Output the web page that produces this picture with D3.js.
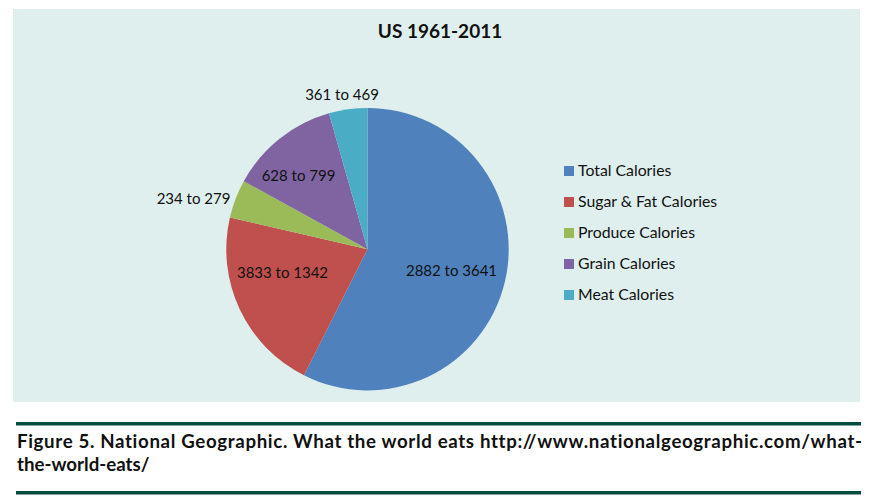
<!DOCTYPE html>
<html>
<head>
<meta charset="utf-8">
<script src="https://cdnjs.cloudflare.com/ajax/libs/d3/7.8.5/d3.min.js"></script>
<style>
  html, body { margin: 0; padding: 0; background: #fff; }
  text { font-family: Lato, "Open Sans", sans-serif; fill: #111; font-variant-ligatures: none; }
</style>
</head>
<body>
<div id="chart"></div>
<script>
const categories = ["Total Calories", "Sugar & Fat Calories", "Produce Calories", "Grain Calories", "Meat Calories"];
const sliceValues = [3641, 1342, 279, 799, 279];
const sliceLabels = ["2882 to 3641", "3833 to 1342", "234 to 279", "628 to 799", "361 to 469"];
const sliceColors = ["#4f81bd", "#c0504d", "#9bbb59", "#8064a2", "#4bacc6"];
const chartTitle = "US 1961-2011";
const captionLines = [
    "Figure 5. National Geographic. What the world eats http://www.nationalgeographic.com/what-",
    "the-world-eats/"
];

const width = 873, height = 499;
const cx = 367.5, cy = 249.2, radius = 141.2;

const svg = d3.select("#chart").append("svg")
    .attr("width", width)
    .attr("height", height)
    .style("display", "block");

// panel
svg.append("rect").attr("x", 13).attr("y", 9).attr("width", 847).attr("height", 393).attr("fill", "#deefed");

svg.append("text")
    .attr("x", 440).attr("y", 38)
    .attr("text-anchor", "middle")
    .style("font-size", "19px")
    .style("font-weight", "700")
    .text(chartTitle);

// pie
const pie = d3.pie().sort(null).value(d => d);
const arc = d3.arc().innerRadius(0).outerRadius(radius);
const arcs = pie(sliceValues);

const pieGroup = svg.append("g").attr("transform", `translate(${cx},${cy})`);
pieGroup.selectAll("path")
    .data(arcs)
    .enter()
    .append("path")
    .attr("d", arc)
    .attr("fill", (d, i) => sliceColors[i]);

// label spots relative to the pie centre
const labelOffset = [[84, 22], [-85, 24], [-174, -50], [-69, -73], [-25.5, -154]];
pieGroup.selectAll("text")
    .data(arcs)
    .enter()
    .append("text")
    .attr("transform", (d, i) => `translate(${labelOffset[i][0]},${labelOffset[i][1]})`)
    .attr("text-anchor", "middle")
    .attr("dy", "0.35em")
    .style("font-size", "15px")
    .text((d, i) => sliceLabels[i]);

// legend
const legendY = d3.scalePoint().domain(categories).range([171, 295]);
const legend = svg.append("g");
legend.selectAll("rect")
    .data(categories)
    .enter()
    .append("rect")
    .attr("x", 564)
    .attr("y", d => legendY(d) - 5)
    .attr("width", 10)
    .attr("height", 10)
    .attr("fill", (d, i) => sliceColors[i]);
legend.selectAll("text")
    .data(categories)
    .enter()
    .append("text")
    .attr("x", 578)
    .attr("y", d => legendY(d) - 1)
    .attr("dy", "0.35em")
    .style("font-size", "15.8px")
    .text(d => d);

// rules and caption
[422, 491].forEach(y => {
    svg.append("rect").attr("x", 16).attr("y", y).attr("width", 845).attr("height", 3.5).attr("fill", "#004d3d");
});

svg.append("text")
    .attr("x", 17).attr("y", 448)
    .attr("textLength", 845)
    .attr("lengthAdjust", "spacing")
    .style("font-size", "18.7px")
    .style("font-weight", "700")
    .text(captionLines[0]);
svg.append("text")
    .attr("x", 17).attr("y", 471)
    .style("font-size", "18.7px")
    .style("font-weight", "700")
    .text(captionLines[1]);
</script>
</body>
</html>
